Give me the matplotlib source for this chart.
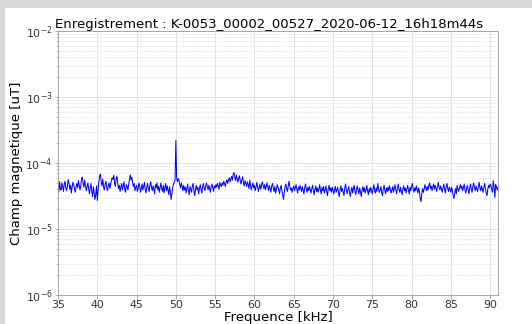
import numpy as np
import matplotlib
matplotlib.use('Agg')
import matplotlib.pyplot as plt
from matplotlib.patches import Rectangle

# Spectre : frequence de 35 a 91 kHz, pas de 0.1 kHz
freq_debut = 35.0
freq_pas = 0.1

# amplitude en 1e-5 uT, une ligne par kHz
amplitude = [
    4.6, 3.6, 5.2, 4.1, 3.9, 5.0, 4.4, 3.7, 4.8, 5.3,
    4.2, 3.8, 4.5, 5.6, 4.9, 4.0, 4.6, 3.5, 4.3, 5.1,
    4.7, 4.0, 3.6, 4.4, 4.9, 4.2, 5.4, 4.6, 3.9, 4.5,
    5.8, 6.1, 4.8, 4.3, 5.5, 4.6, 3.8, 4.4, 5.0, 4.1,
    3.4, 4.2, 4.9, 3.7, 3.1, 4.4, 3.6, 2.8, 3.3, 4.5,
    2.7, 3.9, 5.2, 6.4, 6.8, 5.1, 4.5, 5.7, 4.3, 3.9,
    4.8, 5.3, 4.2, 3.8, 4.6, 5.0, 4.1, 4.7, 5.5, 6.0,
    5.6, 6.5, 5.0, 4.4, 5.8, 6.3, 4.9, 4.1, 4.6, 3.7,
    4.3, 4.9, 3.9, 4.5, 5.2, 4.0, 3.6, 4.7, 4.4, 3.9,
    4.8, 5.7, 6.6, 5.5, 6.1, 5.0, 4.4, 4.9, 3.8, 4.3,
    4.6, 3.7, 4.1, 5.0, 4.5, 3.6, 4.2, 4.8, 3.9, 4.4,
    5.1, 4.0, 3.5, 4.3, 4.9, 4.1, 3.7, 4.6, 5.2, 4.3,
    3.8, 4.5, 4.0, 3.4, 4.7, 4.2, 5.0, 3.9, 4.4, 3.6,
    4.3, 5.0, 4.1, 3.7, 4.6, 3.5, 4.2, 4.9, 3.8, 4.5,
    3.9, 3.3, 4.4, 3.6, 2.8, 3.5, 4.3, 4.8, 5.1, 5.5,
    22.0, 6.0, 5.2, 5.8, 5.4, 4.7, 4.2, 5.0, 4.4, 3.8,
    4.6, 3.9, 4.3, 3.5, 4.1, 4.8, 3.7, 3.3, 4.4, 4.0,
    3.6, 4.5, 4.9, 3.8, 3.2, 4.0, 4.6, 3.9, 4.3, 3.4,
    4.1, 4.7, 4.0, 3.5, 4.4, 4.9, 4.2, 3.8, 4.5, 5.0,
    4.3, 3.9, 4.6, 4.1, 3.6, 4.4, 4.8, 4.2, 3.7, 4.5,
    4.2, 4.7, 4.3, 4.9, 4.5, 4.0, 5.1, 4.6, 4.4, 5.0,
    4.6, 5.3, 4.8, 4.4, 5.2, 5.6, 4.9, 5.4, 6.0, 5.2,
    5.7, 6.3, 5.5, 6.8, 7.2, 6.1, 5.4, 6.6, 5.8, 5.1,
    5.9, 6.4, 5.3, 4.8, 5.6, 6.2, 5.0, 4.5, 5.4, 4.9,
    4.4, 5.2, 4.7, 4.1, 5.5, 4.6, 3.9, 4.5, 5.0, 4.2,
    4.6, 3.8, 4.3, 5.1, 4.4, 3.7, 4.2, 4.8, 4.0, 4.5,
    5.2, 4.6, 4.1, 4.7, 3.9, 4.4, 5.0, 4.3, 3.8, 4.6,
    4.1, 3.6, 4.5, 4.9, 4.2, 3.7, 4.4, 3.5, 4.0, 4.7,
    4.3, 3.9, 3.4, 4.2, 4.6, 3.8, 3.3, 2.8, 3.6, 4.4,
    4.8, 4.1, 3.7, 4.5, 5.3, 4.4, 3.9, 4.2, 3.6, 4.1,
    4.5, 3.8, 4.2, 4.7, 4.0, 3.5, 4.3, 3.9, 4.6, 4.1,
    3.7, 4.4, 3.9, 3.4, 4.2, 4.8, 4.0, 3.6, 4.3, 3.8,
    4.4, 3.9, 3.5, 4.1, 4.6, 3.8, 3.3, 4.0, 4.5, 3.7,
    4.2, 3.6, 4.0, 4.7, 3.9, 3.4, 4.3, 3.8, 4.4, 3.5,
    3.9, 4.5, 3.7, 3.2, 4.1, 4.6, 3.8, 4.2, 3.6, 4.3,
    3.8, 3.4, 4.0, 4.4, 3.6, 3.9, 4.3, 3.5, 3.1, 4.0,
    4.5, 3.7, 4.1, 3.6, 3.2, 4.2, 4.8, 3.9, 3.4, 4.0,
    4.4, 3.6, 3.1, 3.8, 4.3, 3.5, 4.1, 4.6, 3.7, 3.3,
    4.0, 4.5, 3.8, 3.4, 4.2, 3.6, 3.1, 3.9, 4.4, 3.7,
    4.2, 3.5, 3.9, 4.6, 3.8, 3.3, 4.1, 3.6, 4.3, 3.9,
    3.4, 4.0, 4.7, 3.8, 3.5, 4.2, 3.7, 4.9, 4.1, 3.6,
    3.9, 4.4, 3.5, 3.2, 4.1, 4.6, 3.8, 3.4, 4.2, 3.7,
    4.3, 3.8, 4.5, 4.0, 3.5, 3.9, 4.4, 3.6, 4.1, 4.7,
    3.9, 3.4, 4.2, 4.8, 4.0, 3.6, 4.3, 3.7, 3.3, 4.1,
    4.5, 3.8, 4.2, 3.5, 4.0, 4.6, 3.9, 3.4, 4.3, 3.8,
    4.4, 4.9, 4.1, 3.6, 4.2, 3.8, 4.5, 4.0, 3.5, 4.2,
    3.7, 2.9, 2.6, 3.4, 4.1, 3.6, 4.0, 4.7, 4.2, 3.8,
    4.4, 3.9, 4.6, 5.0, 4.1, 4.5, 3.8, 4.3, 4.8, 4.0,
    4.6, 4.2, 3.7, 4.4, 5.1, 4.3, 3.9, 4.5, 4.0, 3.6,
    4.2, 4.8, 4.0, 3.5, 4.4, 4.9, 4.1, 3.7, 4.3, 4.0,
    3.6, 4.3, 3.8, 3.2, 2.9, 3.5, 4.1, 3.4, 4.6, 4.0,
    3.7, 4.2, 4.7, 4.1, 4.5, 3.8, 4.3, 4.8, 3.9, 3.5,
    4.1, 4.6, 3.9, 3.4, 4.2, 4.8, 4.0, 3.6, 4.4, 5.0,
    4.3, 3.8, 4.5, 4.1, 3.7, 4.4, 5.1, 4.2, 3.8, 4.5,
    4.0, 3.6, 4.3, 4.9, 4.1, 3.5, 3.2, 4.0, 4.6, 4.2,
    4.8, 4.6, 4.0, 3.6, 5.4, 4.3, 3.0, 4.7, 4.4, 3.9,
    4.3,
]

titre = 'Enregistrement : K-0053_00002_00527_2020-06-12_16h18m44s'

B = np.array(amplitude) * 1e-5
f = freq_debut + freq_pas * np.arange(len(B))

fig = plt.figure(figsize=(532/72, 324/72), dpi=72)
# bandeau gris autour de la figure
fig.patches.append(Rectangle((0, 317/324), 1, 7/324, transform=fig.transFigure,
                             color='#d9d9d9', zorder=0))
fig.patches.append(Rectangle((0, 0), 4/532, 1, transform=fig.transFigure,
                             color='#d9d9d9', zorder=0))

ax = fig.add_axes([58/532, 29/324, 440/532, 264/324])
ax.semilogy(f, B, color='blue', lw=1)

ax.set_xlim(35, 91)
ax.set_ylim(1e-6, 1e-2)
ax.set_xticks(np.arange(35, 91, 5))
ax.grid(True, which='major', color='#dddddd', lw=0.8)
ax.grid(True, which='minor', color='#e2e2e2', lw=0.6, ls='--')
for s in ax.spines.values():
    s.set_color('#999999')
ax.tick_params(which='both', colors='#999999', labelcolor='#333333',
               labelsize=11, pad=2)

ax.set_title(titre, fontsize=13.3, pad=3, x=0.48)
ax.set_xlabel('Frequence [kHz]', fontsize=13.3, labelpad=0)
ax.set_ylabel('Champ magnetique [uT]', fontsize=13.3, labelpad=2)

plt.savefig('out.png', dpi=72)
